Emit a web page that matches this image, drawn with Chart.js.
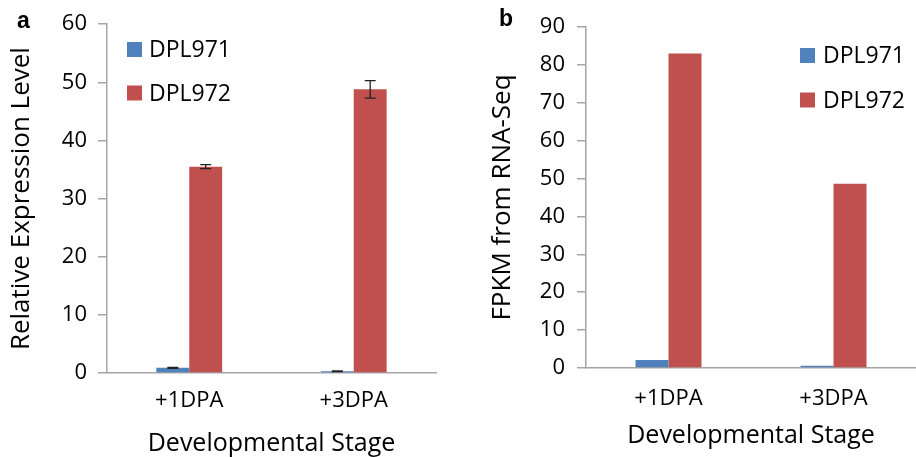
<!DOCTYPE html>
<html>
<head>
    <title>DPL971 / DPL972 expression</title>
    <script src="https://cdn.jsdelivr.net/npm/chart.js"></script>
    <style>
        body { margin: 0; background: #fff; }
        .panel { position: absolute; top: 0; width: 458px; height: 457px; }
        .tag { position: absolute; font: bold 23px "Liberation Sans", Arial, sans-serif; color: #000; }
    </style>
</head>
<body>
    <div class="panel" style="left:0"><canvas id="qpcrChart" width="458" height="457"></canvas></div>
    <div class="panel" style="left:458px"><canvas id="fpkmChart" width="458" height="457"></canvas></div>
    <div class="tag" style="left:17px; top:7px">a</div>
    <div class="tag" style="left:499px; top:5px">b</div>

    <script>
        const categories = ['+1DPA', '+3DPA'];
        const seriesNames = ['DPL971', 'DPL972'];

        // panel a: qRT-PCR relative expression (mean and error)
        const qpcr971 = [0.9, 0.3];
        const qpcr971Err = [0.08, 0.05];
        const qpcr972 = [35.5, 48.8];
        const qpcr972Err = [0.35, 1.5];
        const qpcrTicks = [0, 10, 20, 30, 40, 50, 60];

        // panel b: FPKM from RNA-Seq
        const fpkm971 = [2.1, 0.6];
        const fpkm972 = [83, 48.6];
        const fpkmTicks = [0, 10, 20, 30, 40, 50, 60, 70, 80, 90];

        const BLUE = '#4F81BD';
        const RED = '#C0504D';
        const AXIS = '#a6a6a6';
        const FONT = '"Open Sans", "Noto Sans", sans-serif';

        // error bars drawn from each dataset's errors array
        const errorBars = {
            id: 'errorBars',
            afterDatasetsDraw(chart) {
                const ctx = chart.ctx;
                const y = chart.scales.y;
                chart.data.datasets.forEach((ds, i) => {
                    if (!ds.errors) return;
                    chart.getDatasetMeta(i).data.forEach((bar, j) => {
                        const v = ds.data[j], e = ds.errors[j];
                        const top = y.getPixelForValue(v + e);
                        const bot = y.getPixelForValue(v - e);
                        ctx.save();
                        ctx.strokeStyle = '#222';
                        ctx.lineWidth = 1.3;
                        ctx.beginPath();
                        ctx.moveTo(bar.x, top); ctx.lineTo(bar.x, bot);
                        ctx.moveTo(bar.x - 5.5, top); ctx.lineTo(bar.x + 5.5, top);
                        ctx.moveTo(bar.x - 5.5, bot); ctx.lineTo(bar.x + 5.5, bot);
                        ctx.stroke();
                        ctx.restore();
                    });
                });
            }
        };

        // legend placed inside the plot
        const boxLegend = {
            id: 'boxLegend',
            afterDraw(chart, args, opts) {
                const ctx = chart.ctx;
                ctx.save();
                ctx.font = '23px ' + FONT;
                ctx.textBaseline = 'middle';
                chart.data.datasets.forEach((ds, i) => {
                    const cy = opts.y[i];
                    ctx.fillStyle = ds.backgroundColor;
                    ctx.fillRect(opts.x, cy - 7.5, 15, 15);
                    ctx.fillStyle = '#000';
                    ctx.fillText(ds.label, opts.textX, cy + 1);
                });
                ctx.restore();
            }
        };

        function createChart(canvasId, yTitle, d1, d2, e1, e2, ticks, box) {
            new Chart(document.getElementById(canvasId), {
                type: 'bar',
                data: {
                    labels: categories,
                    datasets: [
                        { label: seriesNames[0], data: d1, errors: e1, backgroundColor: BLUE },
                        { label: seriesNames[1], data: d2, errors: e2, backgroundColor: RED }
                    ]
                },
                options: {
                    responsive: false,
                    animation: false,
                    datasets: { bar: { categoryPercentage: 0.4, barPercentage: 1.0 } },
                    layout: { padding: { left: 0, right: box.padRight, top: box.padTop, bottom: 0 } },
                    plugins: {
                        legend: { display: false },
                        tooltip: { enabled: false },
                        boxLegend: box.legend
                    },
                    scales: {
                        x: {
                            grid: { drawOnChartArea: false, drawTicks: false },
                            border: { color: AXIS, width: 1.5 },
                            ticks: { color: '#000', font: { family: FONT, size: 22 }, padding: box.xTickPad },
                            title: {
                                display: true, text: 'Developmental Stage', color: '#000',
                                font: { family: FONT, size: 25 }, padding: { top: 0, bottom: box.xTitlePad }
                            },
                            afterFit: s => { s.height = box.xHeight; }
                        },
                        y: {
                            min: 0,
                            max: ticks[ticks.length - 1],
                            afterBuildTicks: s => { s.ticks = ticks.map(v => ({ value: v })); },
                            grid: { drawOnChartArea: false, tickLength: 9, color: AXIS, lineWidth: 1.5 },
                            border: { color: AXIS, width: 1.5 },
                            ticks: { color: '#000', font: { family: FONT, size: 22 }, padding: box.yTickPad },
                            title: {
                                display: true, text: yTitle, color: '#000',
                                font: { family: FONT, size: 26 }, padding: { top: box.yTitlePad, bottom: 0 }
                            },
                            afterFit: s => { s.width = box.yWidth; }
                        }
                    }
                },
                plugins: [errorBars, boxLegend]
            });
        }

        createChart('qpcrChart', 'Relative Expression Level', qpcr971, qpcr972, qpcr971Err, qpcr972Err, qpcrTicks, {
            padRight: 22, padTop: 24, yWidth: 107, xHeight: 84,
            yTickPad: 11, xTickPad: 15, yTitlePad: 6, xTitlePad: -2,
            legend: { x: 127, textX: 149, y: [49.5, 93] }
        });

        createChart('fpkmChart', 'FPKM from RNA-Seq', fpkm971, fpkm972, null, null, fpkmTicks, {
            padRight: 0, padTop: 27, yWidth: 128, xHeight: 89,
            yTickPad: 12, xTickPad: 18, yTitlePad: 29, xTitlePad: 6,
            legend: { x: 342, textX: 365, y: [55.5, 100] }
        });
    </script>
</body>
</html>
